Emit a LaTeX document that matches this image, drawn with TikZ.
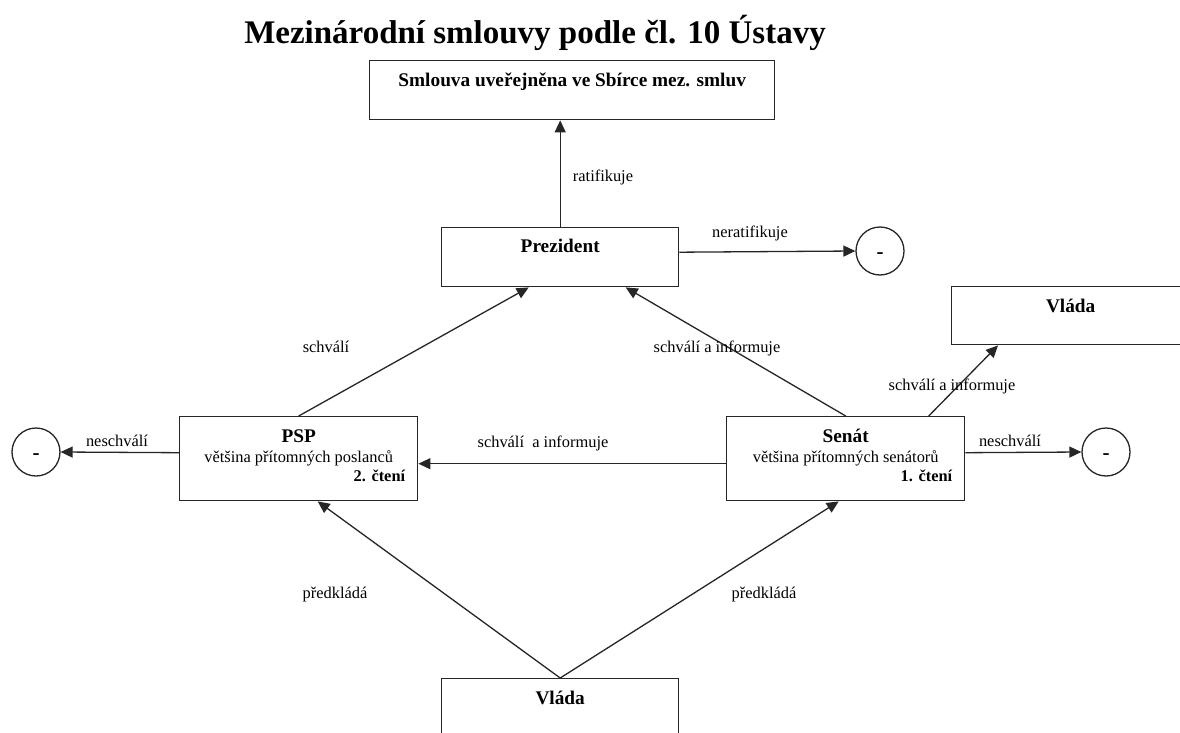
\documentclass[tikz,border=0pt]{standalone}
\usepackage{fontspec}
\setmainfont{Liberation Serif}
\usetikzlibrary{arrows.meta,calc}
\begin{document}
\begin{tikzpicture}[x=1pt,y=-1pt,
  box/.style={draw=black!85,line width=1.4pt,inner sep=0pt,anchor=north west},
  circ/.style={draw=black!85,line width=1.3pt,circle,minimum size=48pt,inner sep=0pt},
  con/.style={draw=black!85,line width=1.3pt,-{Triangle[length=12pt,width=11pt]}},
  lbl/.style={anchor=base,inner sep=0pt,font=\fontsize{16.4}{19}\selectfont},
  head/.style={anchor=base,inner sep=0pt,font=\fontsize{19.3}{22}\selectfont\bfseries},
  subhead/.style={anchor=base east,inner sep=0pt,font=\fontsize{16.4}{19}\selectfont\bfseries},
  minussign/.style={inner sep=0pt,font=\fontsize{21}{22}\selectfont\bfseries},
]
\fill[white] (0,0) rectangle (1180,733);
\clip (0,0) rectangle (1180,733);

% title
\node[anchor=base,inner sep=0pt,font=\fontsize{33}{38}\selectfont\bfseries] (title) at (535,44) {Mezinárodní smlouvy podle čl. 10 Ústavy};

% boxes
\node[box,minimum width=405pt,minimum height=59pt] (smlouva) at (369,60) {};
\node[head] (smlouvat) at ($(smlouva.north)+(0,27)$) {Smlouva uveřejněna ve Sbírce mez. smluv};

\node[box,minimum width=237pt,minimum height=59pt] (prez) at (441,227) {};
\node[head] (prezt) at ($(prez.north)+(0,25)$) {Prezident};

\node[box,minimum width=238pt,minimum height=58pt] (vladaR) at (951,286) {};
\node[head] (vladaRt) at ($(vladaR.north)+(0,26)$) {Vláda};

\node[box,minimum width=238pt,minimum height=84pt] (psp) at (179,416) {};
\node[head] (pspt) at ($(psp.north)+(0,26)$) {PSP};
\node[lbl] (pspt2) at ($(psp.north)+(0,46)$) {většina přítomných poslanců};
\node[subhead] (pspt3) at ($(psp.north east)+(-13,65)$) {2. čtení};

\node[box,minimum width=238pt,minimum height=84pt] (senat) at (726,416) {};
\node[head] (senatt) at ($(senat.north)+(0,26)$) {Senát};
\node[lbl] (senatt2) at ($(senat.north)+(0,46)$) {většina přítomných senátorů};
\node[subhead] (senatt3) at ($(senat.north east)+(-13,65)$) {1. čtení};

\node[box,minimum width=237pt,minimum height=100pt] (vladaB) at (441,678) {};
\node[head] (vladaBt) at ($(vladaB.north)+(0,26)$) {Vláda};

% circles
\node[circ] (neg1) at (880,251) {};
\node[minussign] (neg1m) at ($(neg1)+(0,5)$) {-};
\node[circ] (neg2) at (36,452) {};
\node[minussign] (neg2m) at ($(neg2)+(0,5)$) {-};
\node[circ] (neg3) at (1106,452) {};
\node[minussign] (neg3m) at ($(neg3)+(0,5)$) {-};

% connectors
\draw[con] (prez.north) -- (prez.north |- smlouva.south);
\draw[con] ($(prez.east)+(0,-5)$) -- (neg1.west);
\draw[con] (psp.north) -- ($(prez.south)+(-31.5,0)$);
\draw[con] (senat.north) -- ($(prez.south)+(65.5,0)$);
\draw[con] ($(senat.north)+(83,0)$) -- ($(vladaR.south west)+(47,0)$);
\draw[con] ($(senat.west)+(0,5)$) -- ($(psp.east)+(0,5)$);
\draw[con] ($(psp.west)+(0,-6)$) -- (neg2.east);
\draw[con] ($(senat.east)+(0,-6)$) -- (neg3.west);
\draw[con] (vladaB.north) -- ($(psp.south)+(19,0)$);
\draw[con] (vladaB.north) -- ($(senat.south)+(-7,0)$);

% labels
\node[lbl] (l1) at (603,181) {ratifikuje};
\node[lbl] (l2) at (750,237) {neratifikuje};
\node[lbl] (l3) at (326,352) {schválí};
\node[lbl] (l4) at (717,352) {schválí a informuje};
\node[lbl] (l5) at (952,390) {schválí a informuje};
\node[lbl] (l6) at (543,447) {schválí~ a informuje};
\node[lbl] (l7) at (117,446) {neschválí};
\node[lbl] (l8) at (1010,446) {neschválí};
\node[lbl] (l9) at (335,598) {předkládá};
\node[lbl] (l10) at (764,598) {předkládá};
\end{tikzpicture}
\end{document}
